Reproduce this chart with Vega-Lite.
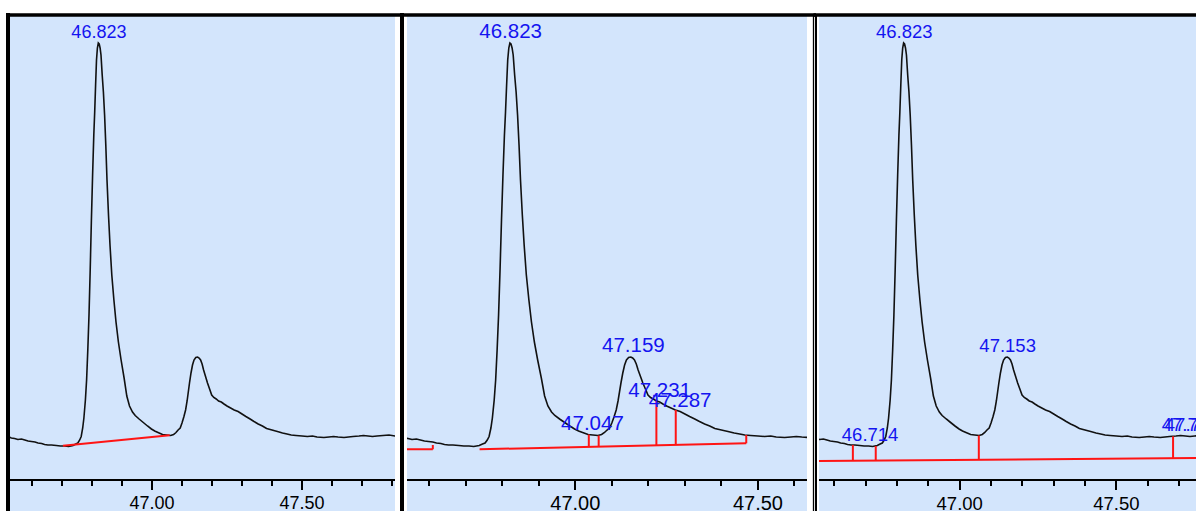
{
  "$schema": "https://vega.github.io/schema/vega-lite/v6.json",
  "background": "white",
  "padding": {"left": 8, "top": 13, "right": 0, "bottom": 0},
  "bounds": "flush",
  "spacing": 12,
  "config": {
    "view": {"stroke": null, "fill": "#D3E5FC"},
    "axis": {"translate": 0, "grid": false, "domainColor": "#000000", "tickColor": "#000000", "labelColor": "#000000"}
  },
  "datasets": {
    "trace": [
      {"t":46.520,"s":43.5},{"t":46.531,"s":42},{"t":46.542,"s":41.5},{"t":46.553,"s":40.5},{"t":46.565,"s":41},{"t":46.576,"s":40},{"t":46.587,"s":39},{"t":46.598,"s":38.5},{"t":46.610,"s":38},{"t":46.620,"s":37},{"t":46.632,"s":36.5},{"t":46.642,"s":35.5},{"t":46.653,"s":35},{"t":46.665,"s":35},{"t":46.681,"s":34.5},{"t":46.695,"s":34},{"t":46.709,"s":34},{"t":46.722,"s":33.5},{"t":46.737,"s":34.5},{"t":46.746,"s":36},{"t":46.753,"s":37},{"t":46.759,"s":40},{"t":46.764,"s":43.5},{"t":46.769,"s":52},{"t":46.773,"s":62},{"t":46.778,"s":80},{"t":46.782,"s":100},{"t":46.786,"s":130},{"t":46.790,"s":165},{"t":46.794,"s":210},{"t":46.798,"s":260},{"t":46.802,"s":305},{"t":46.806,"s":345},{"t":46.809,"s":368},{"t":46.812,"s":395},{"t":46.815,"s":420},{"t":46.818,"s":432},{"t":46.821,"s":437},{"t":46.824,"s":436},{"t":46.827,"s":432},{"t":46.830,"s":425},{"t":46.834,"s":405},{"t":46.838,"s":388},{"t":46.842,"s":365},{"t":46.846,"s":335},{"t":46.850,"s":300},{"t":46.855,"s":265},{"t":46.860,"s":235},{"t":46.866,"s":205},{"t":46.873,"s":180},{"t":46.880,"s":158},{"t":46.888,"s":138},{"t":46.897,"s":120},{"t":46.907,"s":102},{"t":46.916,"s":84},{"t":46.925,"s":74},{"t":46.935,"s":68},{"t":46.944,"s":64.5},{"t":46.957,"s":61},{"t":46.971,"s":57.5},{"t":46.985,"s":54},{"t":46.998,"s":51},{"t":47.009,"s":49},{"t":47.020,"s":47.5},{"t":47.035,"s":45.5},{"t":47.048,"s":45},{"t":47.062,"s":44.5},{"t":47.072,"s":45.5},{"t":47.080,"s":47.5},{"t":47.087,"s":50},{"t":47.094,"s":52},{"t":47.100,"s":57},{"t":47.106,"s":63},{"t":47.112,"s":70},{"t":47.117,"s":79},{"t":47.121,"s":88},{"t":47.125,"s":97},{"t":47.130,"s":107},{"t":47.135,"s":115},{"t":47.140,"s":120},{"t":47.146,"s":122.5},{"t":47.152,"s":123},{"t":47.157,"s":122},{"t":47.162,"s":120},{"t":47.167,"s":116},{"t":47.172,"s":110},{"t":47.178,"s":104},{"t":47.185,"s":97},{"t":47.192,"s":91},{"t":47.199,"s":85},{"t":47.206,"s":82.5},{"t":47.214,"s":81},{"t":47.222,"s":79},{"t":47.231,"s":78},{"t":47.240,"s":76},{"t":47.250,"s":74},{"t":47.262,"s":72},{"t":47.274,"s":70},{"t":47.287,"s":68.5},{"t":47.300,"s":66},{"t":47.313,"s":63.5},{"t":47.327,"s":61},{"t":47.340,"s":58.5},{"t":47.354,"s":56},{"t":47.368,"s":54},{"t":47.382,"s":51.5},{"t":47.400,"s":50},{"t":47.418,"s":48.5},{"t":47.435,"s":47},{"t":47.450,"s":46},{"t":47.464,"s":45},{"t":47.480,"s":44.5},{"t":47.500,"s":44},{"t":47.518,"s":43.5},{"t":47.535,"s":44},{"t":47.550,"s":43},{"t":47.573,"s":42.5},{"t":47.590,"s":43},{"t":47.605,"s":43.5},{"t":47.620,"s":43},{"t":47.640,"s":42.5},{"t":47.655,"s":43},{"t":47.670,"s":43.5},{"t":47.690,"s":44},{"t":47.705,"s":44.5},{"t":47.720,"s":44},{"t":47.735,"s":43.5},{"t":47.750,"s":44},{"t":47.770,"s":44.5},{"t":47.790,"s":45},{"t":47.810,"s":44},{"t":47.830,"s":44.5}
    ],
    "baselines": [
      {"panel":1,"t1":46.703,"s1":34.3,"t2":47.059,"s2":44.8},
      {"panel":2,"t1":46.52,"s1":30.7,"t2":46.61,"s2":30.7},
      {"panel":2,"t1":46.738,"s1":30.7,"t2":47.468,"s2":36.7},
      {"panel":3,"t1":46.54,"s1":19,"t2":47.76,"s2":22}
    ],
    "drops": [
      {"panel":2,"t":46.61,"s1":30.7,"s2":35},
      {"panel":2,"t":47.037,"s1":33.2,"s2":45.5},
      {"panel":2,"t":47.064,"s1":33.4,"s2":44.5},
      {"panel":2,"t":47.222,"s1":34.7,"s2":79},
      {"panel":2,"t":47.275,"s1":35.1,"s2":70},
      {"panel":2,"t":47.468,"s1":36.7,"s2":45},
      {"panel":3,"t":46.659,"s1":19.3,"s2":35},
      {"panel":3,"t":46.732,"s1":19.5,"s2":34},
      {"panel":3,"t":47.061,"s1":20.3,"s2":44.5},
      {"panel":3,"t":47.681,"s1":21.7,"s2":43.7}
    ],
    "labels": [
      {"panel":1,"t":46.823,"s":437,"label":"46.823"},
      {"panel":2,"t":46.823,"s":437,"label":"46.823"},
      {"panel":2,"t":47.047,"s":45,"label":"47.047"},
      {"panel":2,"t":47.159,"s":123,"label":"47.159"},
      {"panel":2,"t":47.231,"s":78,"label":"47.231"},
      {"panel":2,"t":47.287,"s":68.5,"label":"47.287"},
      {"panel":3,"t":46.714,"s":34,"label":"46.714"},
      {"panel":3,"t":46.823,"s":437,"label":"46.823"},
      {"panel":3,"t":47.153,"s":123,"label":"47.153"},
      {"panel":3,"t":47.735,"s":44,"label":"47.735"},
      {"panel":3,"t":47.745,"s":44,"label":"47.745"}
    ]
  },
  "hconcat": [
    {
      "width": 385, "height": 496,
      "layer": [
        {
          "data": {"name": "trace"},
          "mark": {"type": "line", "color": "#111111", "strokeWidth": 1.6, "clip": true},
          "encoding": {
            "x": {"field": "t", "type": "quantitative", "scale": {"domain": [46.52667, 47.81], "nice": false, "zero": false},
              "axis": {"orient": "bottom", "offset": -31, "title": null, "values": [46.6,46.7,46.8,46.9,47.0,47.1,47.2,47.3,47.4,47.5,47.6,47.7,47.8],
                "domainWidth": 2, "tickWidth": 2,
                "tickSize": {"condition": {"test": "abs(datum.value*2 - round(datum.value*2)) < 0.001", "value": 10}, "value": 6},
                "labelExpr": "abs(datum.value*2 - round(datum.value*2)) < 0.001 ? format(datum.value, '.2f') : ''",
                "labelFont": "Liberation Sans", "labelFontSize": 18, "labelPadding": 4.5, "labelOverlap": false, "labelFlush": false}},
            "y": {"field": "s", "type": "quantitative", "scale": {"domain": [-31, 465], "nice": false, "zero": false},
              "axis": {"orient": "left", "offset": 2, "title": null, "domainWidth": 4, "domainCap": "square", "ticks": false, "labels": false}}
          }
        },
        {
          "data": {"name": "baselines"},
          "transform": [{"filter": "datum.panel == 1"}],
          "mark": {"type": "rule", "color": "#FF1414", "strokeWidth": 2, "clip": true},
          "encoding": {
            "x": {"field": "t1", "type": "quantitative", "axis": {"orient": "top", "title": null, "domainWidth": 3.5, "ticks": false, "labels": false}},
            "x2": {"field": "t2"},
            "y": {"field": "s1", "type": "quantitative", "axis": {"orient": "right", "title": null, "domain": false, "values": [465], "tickSize": 12, "tickWidth": 3.5, "labels": false}},
            "y2": {"field": "s2"}
          }
        },
        {
          "data": {"name": "labels"},
          "transform": [{"filter": "datum.panel == 1"}],
          "mark": {"type": "text", "color": "#1414F0", "font": "Liberation Sans", "fontSize": 18, "baseline": "alphabetic", "align": "center", "dy": -5, "clip": true},
          "encoding": {
            "x": {"field": "t", "type": "quantitative", "axis": null},
            "y": {"field": "s", "type": "quantitative", "axis": null},
            "text": {"field": "label"}
          }
        }
      ],
      "resolve": {"axis": {"x": "independent", "y": "independent"}}
    },
    {
      "width": 400, "height": 496,
      "layer": [
        {
          "data": {"name": "trace"},
          "mark": {"type": "line", "color": "#111111", "strokeWidth": 1.6, "clip": true},
          "encoding": {
            "x": {"field": "t", "type": "quantitative", "scale": {"domain": [46.5393, 47.6343], "nice": false, "zero": false},
              "axis": {"orient": "bottom", "offset": -31, "title": null, "values": [46.6,46.7,46.8,46.9,47.0,47.1,47.2,47.3,47.4,47.5,47.6],
                "domainWidth": 2, "tickWidth": 2,
                "tickSize": {"condition": {"test": "abs(datum.value*2 - round(datum.value*2)) < 0.001", "value": 10}, "value": 6},
                "labelExpr": "abs(datum.value*2 - round(datum.value*2)) < 0.001 ? format(datum.value, '.2f') : ''",
                "labelFont": "Liberation Sans", "labelFontSize": 20, "labelPadding": 3.5, "labelOverlap": false, "labelFlush": false}},
            "y": {"field": "s", "type": "quantitative", "scale": {"domain": [-31, 465], "nice": false, "zero": false},
              "axis": {"orient": "left", "offset": 5, "title": null, "domainWidth": 4, "domainCap": "square", "ticks": false, "labels": false}}
          }
        },
        {
          "data": {"name": "baselines"},
          "transform": [{"filter": "datum.panel == 2"}],
          "mark": {"type": "rule", "color": "#FF1414", "strokeWidth": 2, "clip": true},
          "encoding": {
            "x": {"field": "t1", "type": "quantitative", "axis": {"orient": "top", "title": null, "domainWidth": 3.5, "ticks": false, "labels": false}},
            "x2": {"field": "t2"},
            "y": {"field": "s1", "type": "quantitative", "axis": {"orient": "right", "offset": 6.5, "title": null, "domainWidth": 1.3, "domainCap": "square", "values": [465], "tickSize": 5.5, "tickWidth": 3.5, "labels": false}},
            "y2": {"field": "s2"}
          }
        },
        {
          "data": {"name": "drops"},
          "transform": [{"filter": "datum.panel == 2"}],
          "mark": {"type": "rule", "color": "#FF1414", "strokeWidth": 2, "clip": true},
          "encoding": {
            "x": {"field": "t", "type": "quantitative", "axis": null},
            "y": {"field": "s1", "type": "quantitative", "axis": null},
            "y2": {"field": "s2"}
          }
        },
        {
          "data": {"name": "labels"},
          "transform": [{"filter": "datum.panel == 2"}],
          "mark": {"type": "text", "color": "#1414F0", "font": "Liberation Sans", "fontSize": 20.5, "baseline": "alphabetic", "align": "center", "dy": -5, "clip": true},
          "encoding": {
            "x": {"field": "t", "type": "quantitative", "axis": null},
            "y": {"field": "s", "type": "quantitative", "axis": null},
            "text": {"field": "label"}
          }
        }
      ],
      "resolve": {"axis": {"x": "independent", "y": "independent"}}
    },
    {
      "width": 377, "height": 496,
      "layer": [
        {
          "data": {"name": "trace"},
          "mark": {"type": "line", "color": "#111111", "strokeWidth": 1.6, "clip": true},
          "encoding": {
            "x": {"field": "t", "type": "quantitative", "scale": {"domain": [46.5509, 47.7542], "nice": false, "zero": false},
              "axis": {"orient": "bottom", "offset": -31, "title": null, "values": [46.6,46.7,46.8,46.9,47.0,47.1,47.2,47.3,47.4,47.5,47.6,47.7],
                "domainWidth": 2, "tickWidth": 2,
                "tickSize": {"condition": {"test": "abs(datum.value*2 - round(datum.value*2)) < 0.001", "value": 10}, "value": 6},
                "labelExpr": "abs(datum.value*2 - round(datum.value*2)) < 0.001 ? format(datum.value, '.2f') : ''",
                "labelFont": "Liberation Sans", "labelFontSize": 18.5, "labelPadding": 4.5, "labelOverlap": false, "labelFlush": false}},
            "y": {"field": "s", "type": "quantitative", "scale": {"domain": [-31, 465], "nice": false, "zero": false},
              "axis": {"orient": "left", "offset": 3, "title": null, "domainWidth": 2, "domainCap": "square", "values": [465], "tickSize": 9, "tickWidth": 3.5, "labels": false}}
          }
        },
        {
          "data": {"name": "baselines"},
          "transform": [{"filter": "datum.panel == 3"}],
          "mark": {"type": "rule", "color": "#FF1414", "strokeWidth": 2, "clip": true},
          "encoding": {
            "x": {"field": "t1", "type": "quantitative", "axis": {"orient": "top", "title": null, "domainWidth": 3.5, "ticks": false, "labels": false}},
            "x2": {"field": "t2"},
            "y": {"field": "s1", "type": "quantitative", "axis": null},
            "y2": {"field": "s2"}
          }
        },
        {
          "data": {"name": "drops"},
          "transform": [{"filter": "datum.panel == 3"}],
          "mark": {"type": "rule", "color": "#FF1414", "strokeWidth": 2, "clip": true},
          "encoding": {
            "x": {"field": "t", "type": "quantitative", "axis": null},
            "y": {"field": "s1", "type": "quantitative", "axis": null},
            "y2": {"field": "s2"}
          }
        },
        {
          "data": {"name": "labels"},
          "transform": [{"filter": "datum.panel == 3"}],
          "mark": {"type": "text", "color": "#1414F0", "font": "Liberation Sans", "fontSize": 18.5, "baseline": "alphabetic", "align": "center", "dy": -5, "clip": true},
          "encoding": {
            "x": {"field": "t", "type": "quantitative", "axis": null},
            "y": {"field": "s", "type": "quantitative", "axis": null},
            "text": {"field": "label"}
          }
        }
      ],
      "resolve": {"axis": {"x": "independent", "y": "independent"}}
    }
  ]
}
